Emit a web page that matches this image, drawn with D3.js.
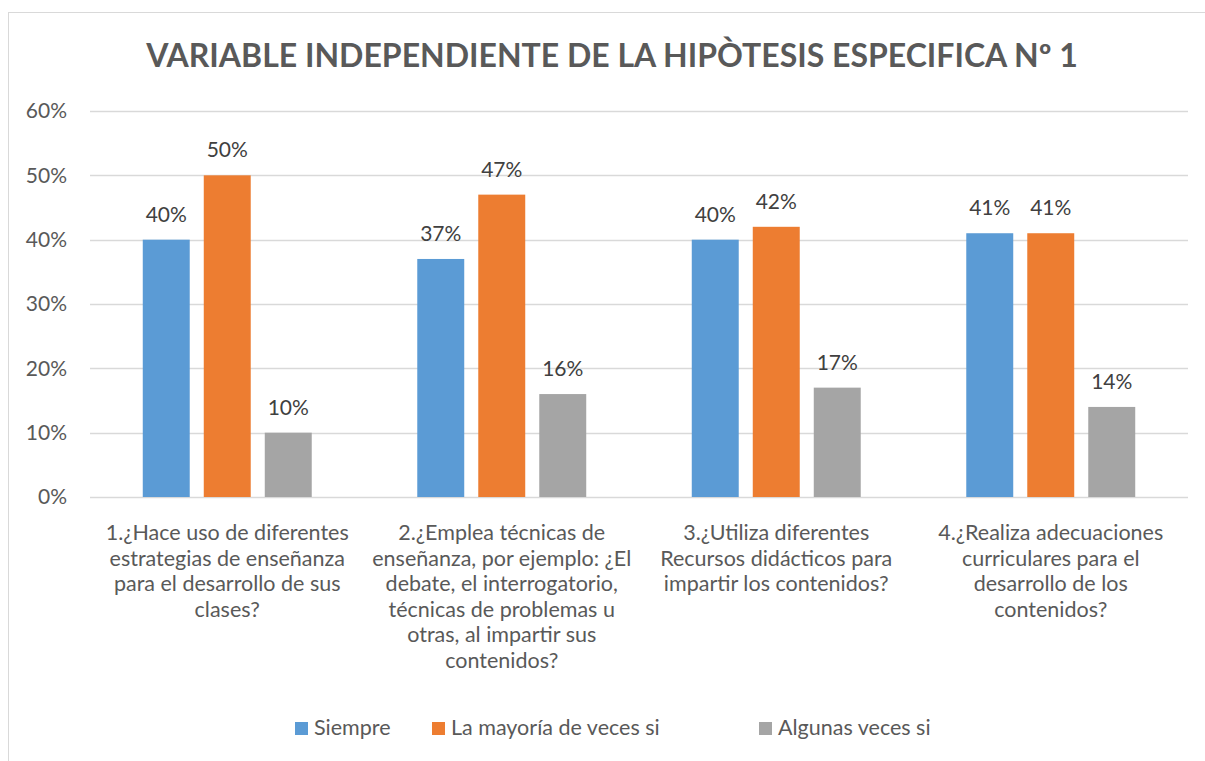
<!DOCTYPE html>
<html>
<head>
<meta charset="utf-8">
<script src="https://cdn.jsdelivr.net/npm/d3@7"></script>
<style>
  body { margin: 0; background: #fff; }
  svg { font-family: Lato, "Open Sans", sans-serif; }
</style>
</head>
<body>
<div id="chart"></div>
<script>
  // data
  const categoryLines = [
    ['1.¿Hace uso de diferentes', 'estrategias de enseñanza', 'para el desarrollo de sus', 'clases?'],
    ['2.¿Emplea técnicas de', 'enseñanza, por ejemplo: ¿El', 'debate, el interrogatorio,', 'técnicas de problemas u', 'otras, al impartir sus', 'contenidos?'],
    ['3.¿Utiliza diferentes', 'Recursos didácticos para', 'impartir los contenidos?'],
    ['4.¿Realiza adecuaciones', 'curriculares para el', 'desarrollo de los', 'contenidos?']
  ];
  const seriesNames = ['Siempre', 'La mayoría de veces si', 'Algunas veces si'];
  const siempre = [0.40, 0.37, 0.40, 0.41];
  const mayoria = [0.50, 0.47, 0.42, 0.41];
  const algunas = [0.10, 0.16, 0.17, 0.14];
  const yTicks = [0, 0.1, 0.2, 0.3, 0.4, 0.5, 0.6];
  const colors = ['#5b9bd5', '#ed7d31', '#a5a5a5'];

  const width = 1205, height = 761;
  const margin = { top: 111, right: 17, bottom: 264, left: 90 };

  const svg = d3.select('#chart').append('svg')
    .attr('width', width)
    .attr('height', height);

  // outer chart border
  svg.append('rect')
    .attr('x', 8.5).attr('y', 12.5)
    .attr('width', width + 10).attr('height', height + 10)
    .attr('fill', 'none')
    .attr('stroke', '#d9d9d9');

  svg.append('text')
    .attr('x', 612)
    .attr('y', 67)
    .attr('text-anchor', 'middle')
    .attr('font-size', 32)
    .attr('font-weight', 'bold')
    .attr('fill', '#595959')
    .text('VARIABLE INDEPENDIENTE DE LA HIPÒTESIS ESPECIFICA Nº 1');

  const idx = d3.range(categoryLines.length);
  const series = [siempre, mayoria, algunas];

  const x0 = d3.scaleBand()
    .domain(idx)
    .range([margin.left, width - margin.right]);

  const x1 = d3.scaleBand()
    .domain(d3.range(series.length))
    .range([0, x0.bandwidth()])
    .paddingInner(0.23)
    .paddingOuter(0.865);

  const y = d3.scaleLinear()
    .domain([0, 0.6])
    .range([height - margin.bottom, margin.top]);

  // gridlines
  svg.append('g')
    .selectAll('line')
    .data(yTicks)
    .join('line')
    .attr('x1', margin.left)
    .attr('x2', width - margin.right)
    .attr('y1', d => Math.round(y(d)) + 0.5)
    .attr('y2', d => Math.round(y(d)) + 0.5)
    .attr('stroke', '#d9d9d9')
    .attr('stroke-width', 1.3);

  // y labels
  const yAxis = svg.append('g')
    .attr('transform', `translate(${margin.left - 20},0)`)
    .call(d3.axisLeft(y).tickValues(yTicks).tickFormat(d3.format('.0%')).tickSize(0));
  yAxis.select('.domain').remove();
  yAxis.selectAll('text')
    .attr('font-size', 21)
    .attr('font-family', 'Lato, "Open Sans", sans-serif')
    .attr('fill', '#595959');

  // bars
  const groups = svg.append('g')
    .selectAll('g')
    .data(idx)
    .join('g')
    .attr('transform', i => `translate(${x0(i)},0)`);

  groups.selectAll('rect')
    .data(i => series.map((s, k) => ({ k, v: s[i] })))
    .join('rect')
    .attr('x', d => x1(d.k))
    .attr('width', x1.bandwidth())
    .attr('y', d => y(d.v))
    .attr('height', d => y(0) - y(d.v))
    .attr('fill', d => colors[d.k]);

  groups.selectAll('text.val')
    .data(i => series.map((s, k) => ({ k, v: s[i] })))
    .join('text')
    .attr('class', 'val')
    .attr('x', d => x1(d.k) + x1.bandwidth() / 2)
    .attr('y', d => y(d.v) - 18)
    .attr('text-anchor', 'middle')
    .attr('font-size', 21)
    .attr('fill', '#404040')
    .text(d => d3.format('.0%')(d.v));

  // category labels
  const xl = svg.append('g')
    .selectAll('text')
    .data(idx)
    .join('text')
    .attr('x', i => x0(i) + x0.bandwidth() / 2)
    .attr('y', 540)
    .attr('text-anchor', 'middle')
    .attr('font-size', 21.5)
    .attr('fill', '#595959');
  xl.selectAll('tspan')
    .data(i => categoryLines[i].map(t => ({ t, i })))
    .join('tspan')
    .attr('x', d => x0(d.i) + x0.bandwidth() / 2)
    .attr('dy', (d, j) => j === 0 ? 0 : 25.6)
    .text(d => d.t);

  // legend
  const legendX = [295, 432, 759];
  const legend = svg.append('g')
    .selectAll('g')
    .data(seriesNames)
    .join('g')
    .attr('transform', (d, k) => `translate(${legendX[k]},722)`);
  legend.append('rect')
    .attr('width', 13).attr('height', 13)
    .attr('fill', (d, k) => colors[k]);
  legend.append('text')
    .attr('x', 19)
    .attr('y', 13)
    .attr('font-size', 21.5)
    .attr('fill', '#595959')
    .text(d => d);
</script>
</body>
</html>
